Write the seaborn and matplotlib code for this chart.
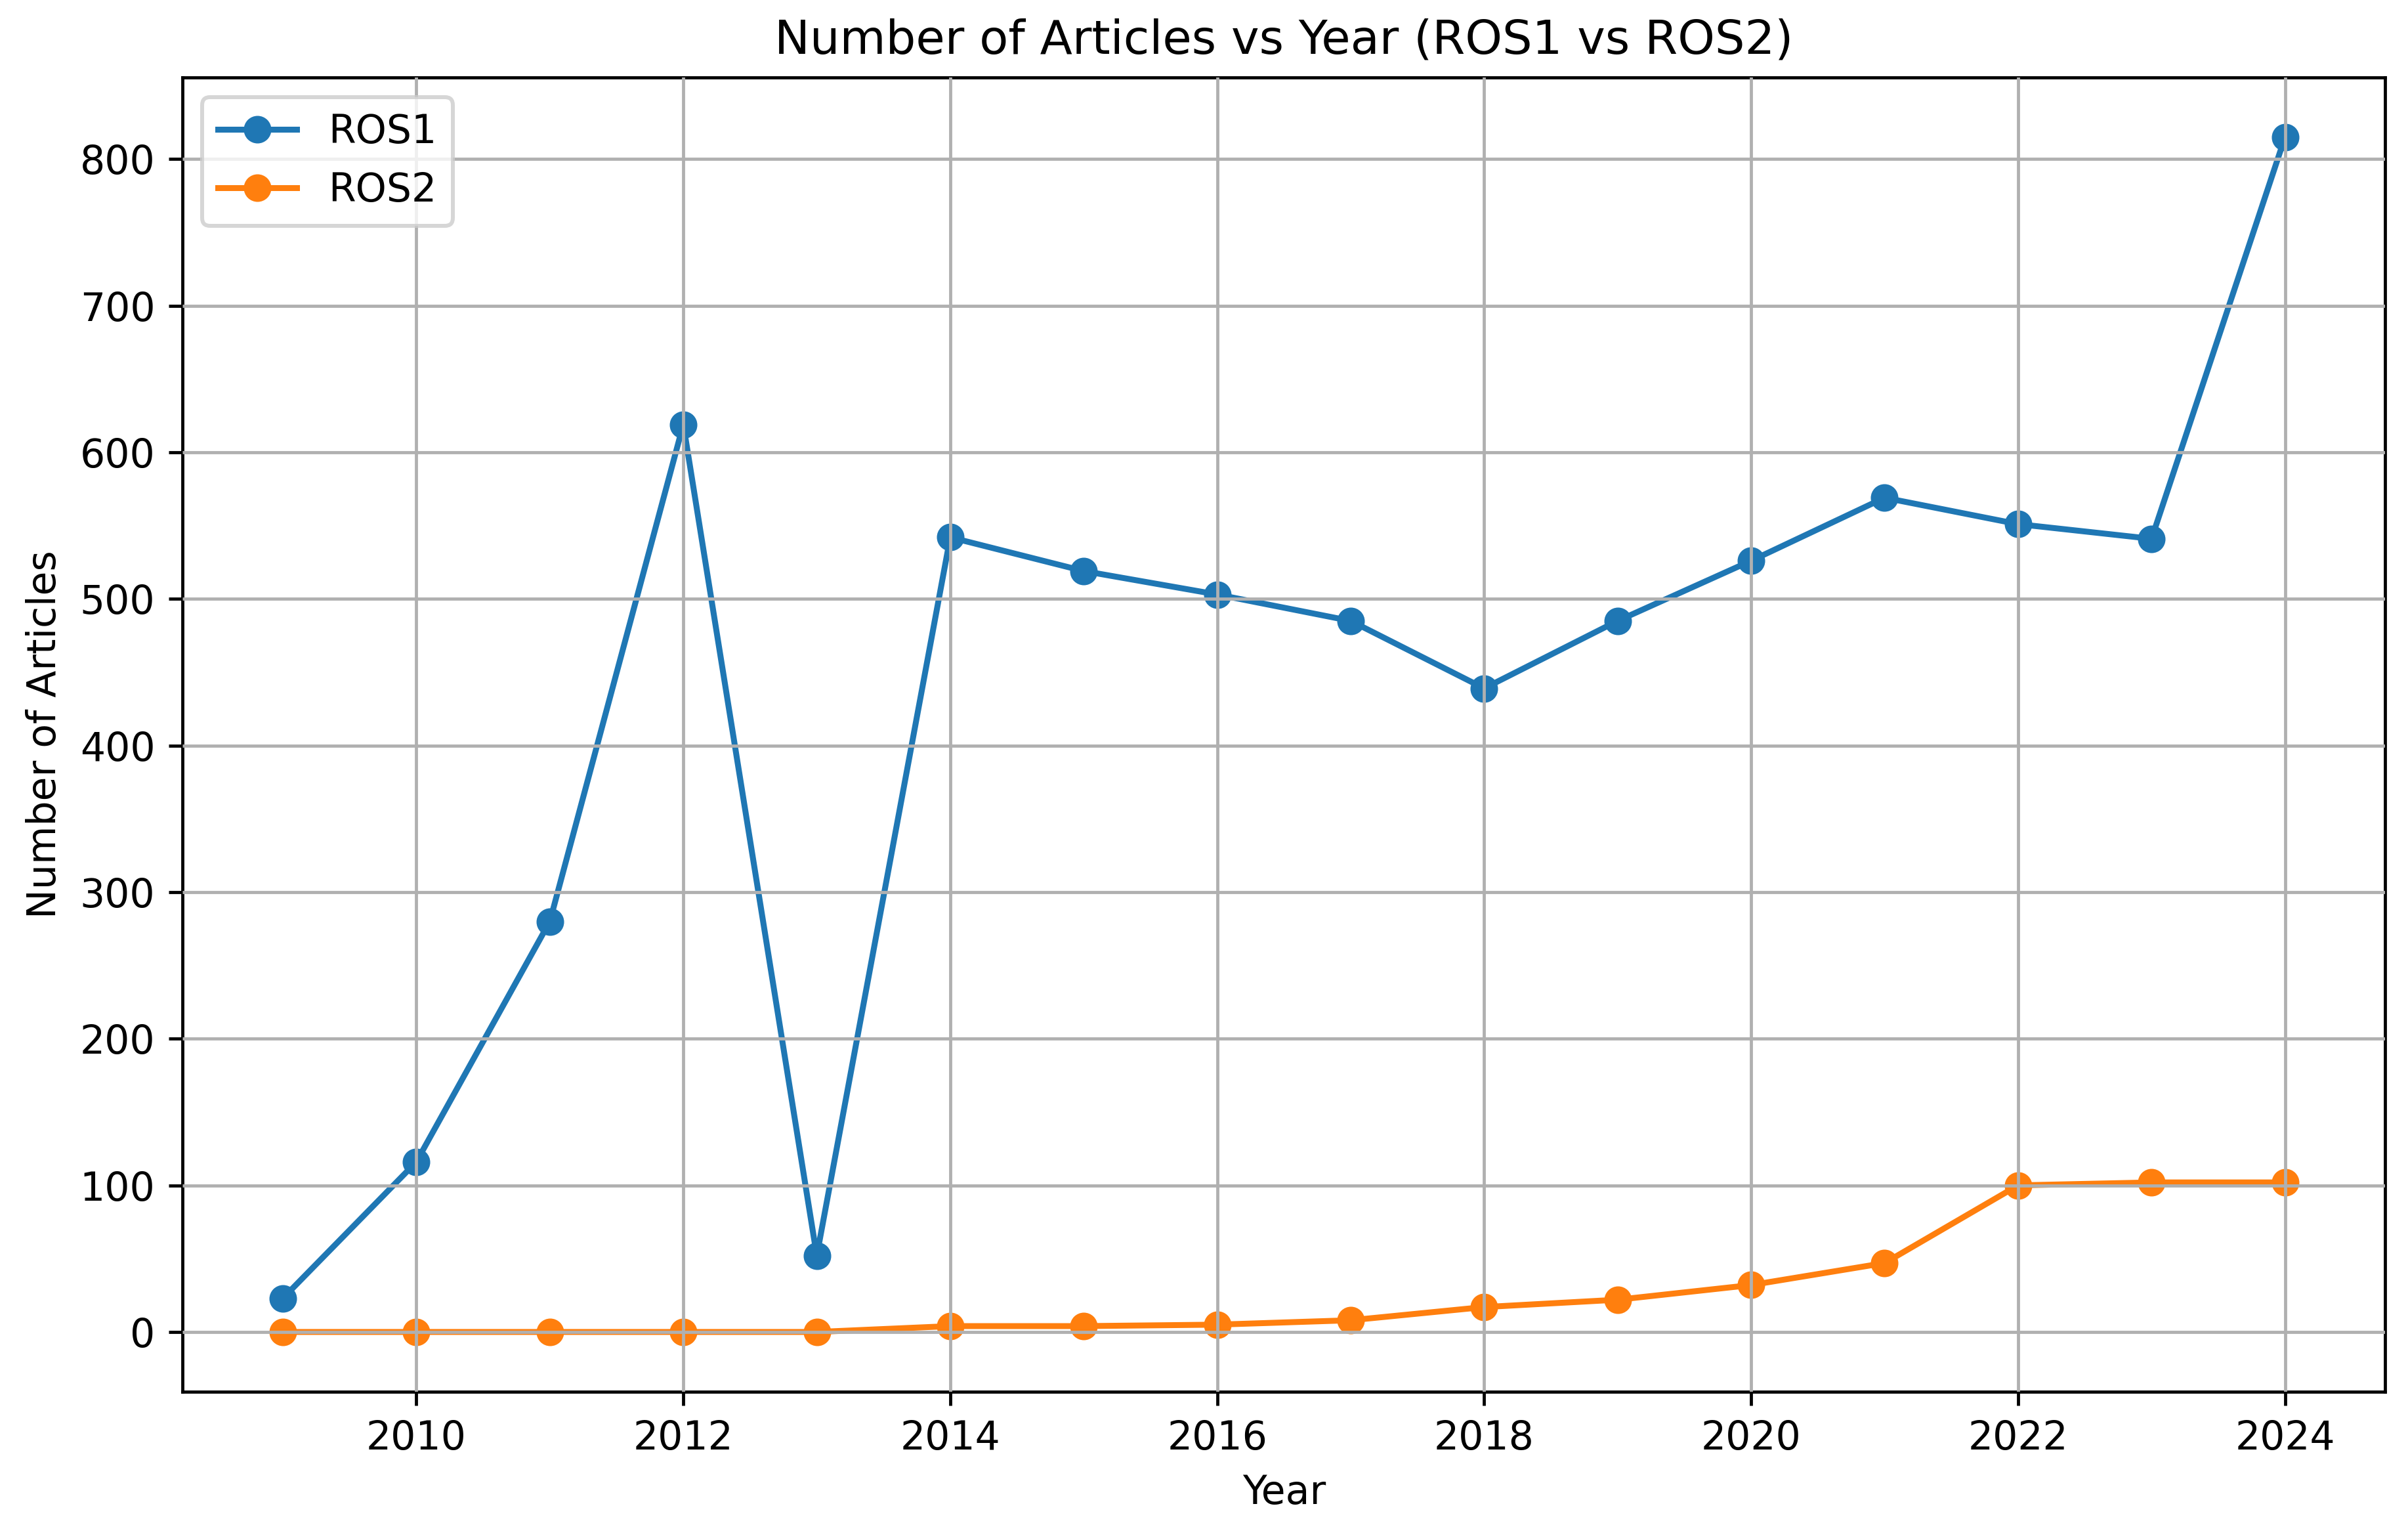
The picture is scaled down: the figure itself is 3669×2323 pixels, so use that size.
import matplotlib
matplotlib.use("Agg")
import matplotlib.pyplot as plt
import seaborn as sns
import pandas as pd

years = list(range(2009, 2025))
ros1 = [23, 116, 280, 619, 52, 542, 519, 503, 485, 439, 485, 526, 569, 551, 541, 815]
ros2 = [0, 0, 0, 0, 0, 4, 4, 5, 8, 17, 22, 32, 47, 100, 102, 102]
series_names = ["ROS1", "ROS2"]
colors = ["#1f77b4", "#ff7f0e"]

df = pd.DataFrame({
    "Year": years * 2,
    "Number of Articles": ros1 + ros2,
    "Series": [series_names[0]] * len(years) + [series_names[1]] * len(years),
})

DPI = 432
fig, ax = plt.subplots(figsize=(3669 / DPI, 2323 / DPI), dpi=DPI)
for name, col in zip(series_names, colors):
    sub = df[df["Series"] == name]
    sns.lineplot(data=sub, x="Year", y="Number of Articles", color=col, marker="o",
                 markersize=6, markeredgecolor=col, markeredgewidth=1.0,
                 linewidth=1.5, label=name, ax=ax)

ax.grid(True, color="#b0b0b0", linewidth=0.8)
ax.set_axisbelow(False)
ax.set_title("Number of Articles vs Year (ROS1 vs ROS2)", fontsize=12)
ax.set_xlabel("Year", fontsize=10)
ax.set_ylabel("Number of Articles", fontsize=10)
ax.legend(loc="upper left", fontsize=10)
fig.subplots_adjust(left=0.0759, right=0.9905, top=0.9493, bottom=0.0874)
fig.savefig("out.png", dpi=DPI)
